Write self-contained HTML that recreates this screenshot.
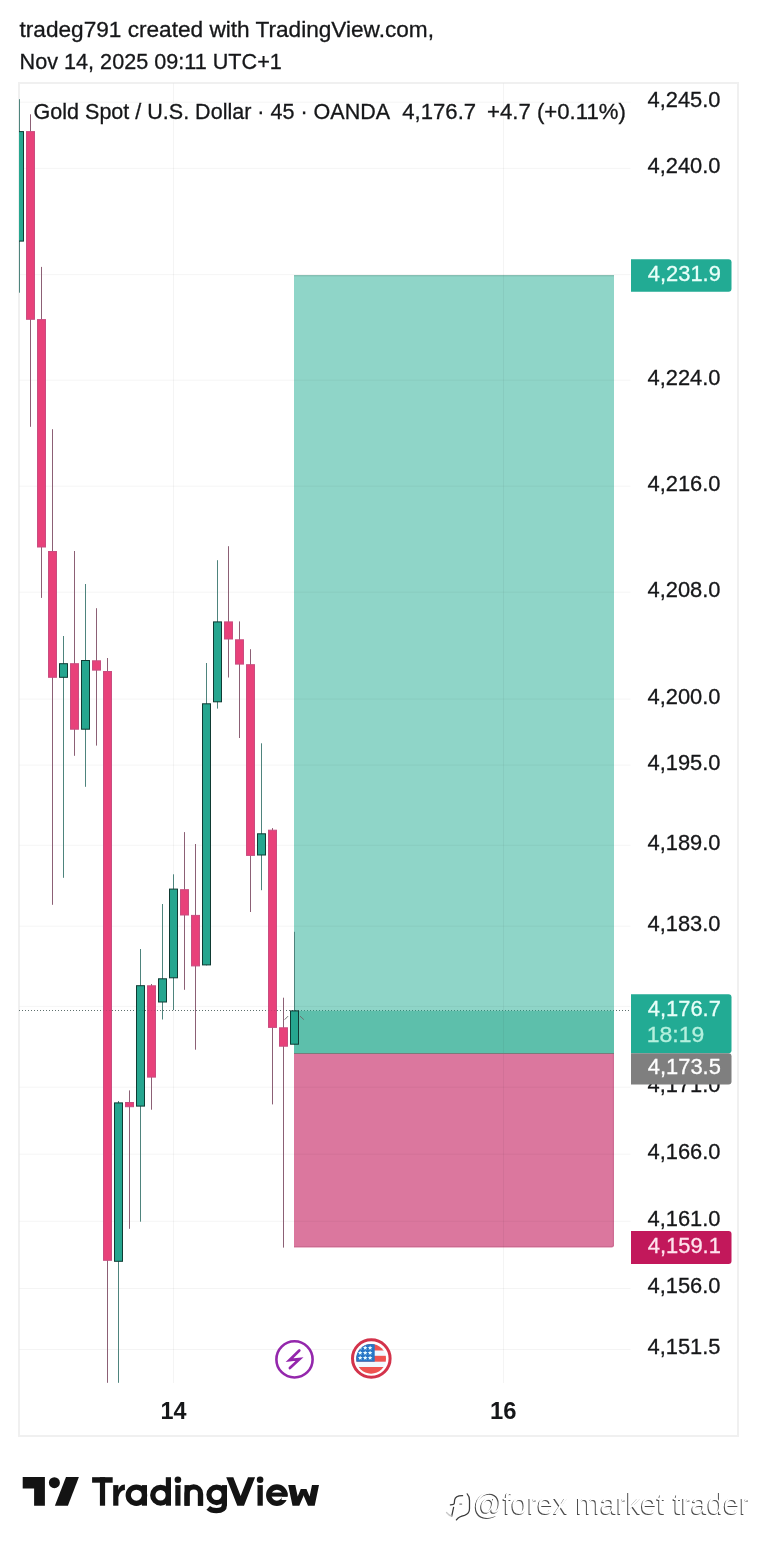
<!DOCTYPE html><html><head><meta charset="utf-8"><style>html,body{margin:0;padding:0;background:#fff;width:757px;height:1549px;overflow:hidden}svg{display:block;will-change:transform}text{font-family:"Liberation Sans", sans-serif}</style></head><body>
<svg width="757" height="1549" viewBox="0 0 757 1549">
<rect x="0" y="0" width="757" height="1549" fill="#fff"/>
<text x="19.5" y="36.7" font-size="22" font-weight="normal" fill="#161719" stroke="#161719" stroke-width="0.3" textLength="414.5" lengthAdjust="spacingAndGlyphs" >tradeg791 created with TradingView.com,</text>
<text x="19.6" y="68.6" font-size="22" font-weight="normal" fill="#161719" stroke="#161719" stroke-width="0.3" textLength="262.2" lengthAdjust="spacingAndGlyphs" >Nov 14, 2025 09:11 UTC+1</text>
<rect x="19" y="83" width="719" height="1353" fill="none" stroke="#F0F0F0" stroke-width="2"/>
<text x="33.6" y="119.4" font-size="22" font-weight="normal" fill="#161719" stroke="#161719" stroke-width="0.3" textLength="356.5" lengthAdjust="spacingAndGlyphs" >Gold Spot / U.S. Dollar · 45 · OANDA</text>
<text x="402.3" y="119.4" font-size="22" font-weight="normal" fill="#161719" stroke="#161719" stroke-width="0.3" textLength="73.8" lengthAdjust="spacingAndGlyphs" >4,176.7</text>
<text x="487.0" y="119.4" font-size="22" font-weight="normal" fill="#161719" stroke="#161719" stroke-width="0.3" textLength="138.8" lengthAdjust="spacingAndGlyphs" >+4.7 (+0.11%)</text>
<rect x="294" y="275.2" width="320" height="735.2" fill="#8FD5C8"/>
<rect x="294" y="275.2" width="320" height="1" fill="rgba(0,60,40,0.22)"/>
<rect x="294" y="1010.4" width="320" height="43.1" fill="#5DBFAB"/>
<path d="M294 1053.5 H614 V1245.2 Q614 1247.5 611.7 1247.5 H294 Z" fill="#DB779E"/>
<path d="M294 1246.5 H612 Q613 1246.5 613.3 1245.5 V1054" fill="none" stroke="rgba(90,20,50,0.12)" stroke-width="1"/>
<rect x="19.5" y="101.7" width="611" height="1" fill="rgba(0,0,0,0.045)"/>
<rect x="19.5" y="167.9" width="611" height="1" fill="rgba(0,0,0,0.045)"/>
<rect x="19.5" y="274.1" width="611" height="1" fill="rgba(0,0,0,0.045)"/>
<rect x="19.5" y="379.7" width="611" height="1" fill="rgba(0,0,0,0.045)"/>
<rect x="19.5" y="485.7" width="611" height="1" fill="rgba(0,0,0,0.045)"/>
<rect x="19.5" y="591.7" width="611" height="1" fill="rgba(0,0,0,0.045)"/>
<rect x="19.5" y="698.6" width="611" height="1" fill="rgba(0,0,0,0.045)"/>
<rect x="19.5" y="764.6" width="611" height="1" fill="rgba(0,0,0,0.045)"/>
<rect x="19.5" y="844.8" width="611" height="1" fill="rgba(0,0,0,0.045)"/>
<rect x="19.5" y="925.7" width="611" height="1" fill="rgba(0,0,0,0.045)"/>
<rect x="19.5" y="1005.9" width="611" height="1" fill="rgba(0,0,0,0.045)"/>
<rect x="19.5" y="1086.7" width="611" height="1" fill="rgba(0,0,0,0.045)"/>
<rect x="19.5" y="1153.7" width="611" height="1" fill="rgba(0,0,0,0.045)"/>
<rect x="19.5" y="1220.8" width="611" height="1" fill="rgba(0,0,0,0.045)"/>
<rect x="19.5" y="1288.0" width="611" height="1" fill="rgba(0,0,0,0.045)"/>
<rect x="19.5" y="1349.0" width="611" height="1" fill="rgba(0,0,0,0.045)"/>
<rect x="173.0" y="83.5" width="1" height="1299.5" fill="rgba(0,0,0,0.045)"/>
<rect x="503.0" y="83.5" width="1" height="1299.5" fill="rgba(0,0,0,0.045)"/>
<rect x="294" y="1053" width="320" height="1" fill="#7A7A7A"/>
<line x1="19" y1="1010.5" x2="630" y2="1010.5" stroke="#6B7B78" stroke-width="1" stroke-dasharray="1 2"/>
<line x1="295" y1="1010.5" x2="614" y2="1010.5" stroke="#3F9A88" stroke-width="1" stroke-dasharray="1 2"/>
<clipPath id="pane"><rect x="19" y="83.5" width="611" height="1299.5"/></clipPath>
<g clip-path="url(#pane)">
<rect x="19.0" y="99.2" width="1" height="193.5" fill="#4E847D"/>
<rect x="15.5" y="131.6" width="8" height="109.5" fill="#26A68F" stroke="#0F3B33" stroke-width="1"/>
<rect x="30.0" y="114.3" width="1" height="312.5" fill="#8C6075"/>
<rect x="26.5" y="131.6" width="8" height="187.7" fill="#E8417A" stroke="#C94D80" stroke-width="1"/>
<rect x="41.0" y="266.9" width="1" height="331.0" fill="#8C6075"/>
<rect x="37.5" y="319.6" width="8" height="227.4" fill="#E8417A" stroke="#C94D80" stroke-width="1"/>
<rect x="52.0" y="429.2" width="1" height="475.6" fill="#8C6075"/>
<rect x="48.5" y="551.5" width="8" height="125.8" fill="#E8417A" stroke="#C94D80" stroke-width="1"/>
<rect x="63.0" y="636.0" width="1" height="241.8" fill="#4E847D"/>
<rect x="59.5" y="663.7" width="8" height="13.6" fill="#26A68F" stroke="#0F3B33" stroke-width="1"/>
<rect x="74.0" y="551.0" width="1" height="204.8" fill="#8C6075"/>
<rect x="70.5" y="663.7" width="8" height="65.5" fill="#E8417A" stroke="#C94D80" stroke-width="1"/>
<rect x="85.0" y="584.0" width="1" height="202.8" fill="#4E847D"/>
<rect x="81.5" y="660.5" width="8" height="68.7" fill="#26A68F" stroke="#0F3B33" stroke-width="1"/>
<rect x="96.0" y="608.2" width="1" height="137.4" fill="#8C6075"/>
<rect x="92.5" y="660.8" width="8" height="9.3" fill="#E8417A" stroke="#C94D80" stroke-width="1"/>
<rect x="107.0" y="658.0" width="1" height="724.8" fill="#8C6075"/>
<rect x="103.5" y="671.5" width="8" height="588.8" fill="#E8417A" stroke="#C94D80" stroke-width="1"/>
<rect x="118.0" y="1101.0" width="1" height="281.8" fill="#4E847D"/>
<rect x="114.5" y="1102.9" width="8" height="158.4" fill="#26A68F" stroke="#0F3B33" stroke-width="1"/>
<rect x="129.0" y="1090.4" width="1" height="138.4" fill="#8C6075"/>
<rect x="125.5" y="1102.5" width="8" height="4.2" fill="#E8417A" stroke="#C94D80" stroke-width="1"/>
<rect x="140.0" y="949.0" width="1" height="272.7" fill="#4E847D"/>
<rect x="136.5" y="985.7" width="8" height="120.4" fill="#26A68F" stroke="#0F3B33" stroke-width="1"/>
<rect x="151.0" y="984.0" width="1" height="125.7" fill="#8C6075"/>
<rect x="147.5" y="985.8" width="8" height="91.3" fill="#E8417A" stroke="#C94D80" stroke-width="1"/>
<rect x="162.0" y="904.0" width="1" height="115.5" fill="#4E847D"/>
<rect x="158.5" y="978.8" width="8" height="23.2" fill="#26A68F" stroke="#0F3B33" stroke-width="1"/>
<rect x="173.0" y="874.3" width="1" height="135.7" fill="#4E847D"/>
<rect x="169.5" y="889.1" width="8" height="88.7" fill="#26A68F" stroke="#0F3B33" stroke-width="1"/>
<rect x="184.0" y="832.1" width="1" height="157.7" fill="#8C6075"/>
<rect x="180.5" y="889.7" width="8" height="25.3" fill="#E8417A" stroke="#C94D80" stroke-width="1"/>
<rect x="195.0" y="844.0" width="1" height="205.7" fill="#8C6075"/>
<rect x="191.5" y="915.4" width="8" height="50.5" fill="#E8417A" stroke="#C94D80" stroke-width="1"/>
<rect x="206.0" y="663.0" width="1" height="302.4" fill="#4E847D"/>
<rect x="202.5" y="703.8" width="8" height="261.1" fill="#26A68F" stroke="#0F3B33" stroke-width="1"/>
<rect x="217.0" y="560.2" width="1" height="148.4" fill="#4E847D"/>
<rect x="213.5" y="621.9" width="8" height="79.9" fill="#26A68F" stroke="#0F3B33" stroke-width="1"/>
<rect x="228.0" y="546.2" width="1" height="131.3" fill="#8C6075"/>
<rect x="224.5" y="621.9" width="8" height="17.1" fill="#E8417A" stroke="#C94D80" stroke-width="1"/>
<rect x="239.0" y="621.4" width="1" height="116.6" fill="#8C6075"/>
<rect x="235.5" y="639.8" width="8" height="24.3" fill="#E8417A" stroke="#C94D80" stroke-width="1"/>
<rect x="250.0" y="649.2" width="1" height="262.8" fill="#8C6075"/>
<rect x="246.5" y="664.7" width="8" height="190.7" fill="#E8417A" stroke="#C94D80" stroke-width="1"/>
<rect x="261.0" y="743.3" width="1" height="146.9" fill="#4E847D"/>
<rect x="257.5" y="833.8" width="8" height="21.2" fill="#26A68F" stroke="#0F3B33" stroke-width="1"/>
<rect x="272.0" y="828.1" width="1" height="276.3" fill="#8C6075"/>
<rect x="268.5" y="830.2" width="8" height="197.2" fill="#E8417A" stroke="#C94D80" stroke-width="1"/>
<rect x="283.0" y="997.7" width="1" height="249.9" fill="#8C6075"/>
<rect x="279.5" y="1027.8" width="8" height="18.4" fill="#E8417A" stroke="#C94D80" stroke-width="1"/>
<rect x="294.0" y="931.8" width="1" height="112.9" fill="#4E847D"/>
<rect x="290.5" y="1010.9" width="8" height="33.3" fill="#26A68F" stroke="#0F3B33" stroke-width="1"/>
</g>
<line x1="19" y1="1010.5" x2="630" y2="1010.5" stroke="rgba(30,50,45,0.15)" stroke-width="1" stroke-dasharray="1 2"/>
<g stroke="#6f6f6f" stroke-width="1" stroke-linecap="round"><line x1="284.9" y1="1019.4" x2="287.8" y2="1016.4"/><line x1="300.3" y1="1016.4" x2="303.6" y2="1019.4"/></g>
<text x="647.5" y="107.1" font-size="22" font-weight="normal" fill="#161719" stroke="#161719" stroke-width="0.3" textLength="73" lengthAdjust="spacingAndGlyphs" >4,245.0</text>
<text x="647.5" y="173.3" font-size="22" font-weight="normal" fill="#161719" stroke="#161719" stroke-width="0.3" textLength="73" lengthAdjust="spacingAndGlyphs" >4,240.0</text>
<text x="647.5" y="385.1" font-size="22" font-weight="normal" fill="#161719" stroke="#161719" stroke-width="0.3" textLength="73" lengthAdjust="spacingAndGlyphs" >4,224.0</text>
<text x="647.5" y="491.1" font-size="22" font-weight="normal" fill="#161719" stroke="#161719" stroke-width="0.3" textLength="73" lengthAdjust="spacingAndGlyphs" >4,216.0</text>
<text x="647.5" y="597.1" font-size="22" font-weight="normal" fill="#161719" stroke="#161719" stroke-width="0.3" textLength="73" lengthAdjust="spacingAndGlyphs" >4,208.0</text>
<text x="647.5" y="704.0" font-size="22" font-weight="normal" fill="#161719" stroke="#161719" stroke-width="0.3" textLength="73" lengthAdjust="spacingAndGlyphs" >4,200.0</text>
<text x="647.5" y="770.0" font-size="22" font-weight="normal" fill="#161719" stroke="#161719" stroke-width="0.3" textLength="73" lengthAdjust="spacingAndGlyphs" >4,195.0</text>
<text x="647.5" y="850.2" font-size="22" font-weight="normal" fill="#161719" stroke="#161719" stroke-width="0.3" textLength="73" lengthAdjust="spacingAndGlyphs" >4,189.0</text>
<text x="647.5" y="931.1" font-size="22" font-weight="normal" fill="#161719" stroke="#161719" stroke-width="0.3" textLength="73" lengthAdjust="spacingAndGlyphs" >4,183.0</text>
<text x="647.5" y="1092.1" font-size="22" font-weight="normal" fill="#161719" stroke="#161719" stroke-width="0.3" textLength="73" lengthAdjust="spacingAndGlyphs" >4,171.0</text>
<text x="647.5" y="1159.1" font-size="22" font-weight="normal" fill="#161719" stroke="#161719" stroke-width="0.3" textLength="73" lengthAdjust="spacingAndGlyphs" >4,166.0</text>
<text x="647.5" y="1226.2" font-size="22" font-weight="normal" fill="#161719" stroke="#161719" stroke-width="0.3" textLength="73" lengthAdjust="spacingAndGlyphs" >4,161.0</text>
<text x="647.5" y="1293.1" font-size="22" font-weight="normal" fill="#161719" stroke="#161719" stroke-width="0.3" textLength="73" lengthAdjust="spacingAndGlyphs" >4,156.0</text>
<text x="647.5" y="1354.4" font-size="22" font-weight="normal" fill="#161719" stroke="#161719" stroke-width="0.3" textLength="73" lengthAdjust="spacingAndGlyphs" >4,151.5</text>
<path d="M631 259.2 H728.5 Q731.5 259.2 731.5 262.2 V288.7 Q731.5 291.7 728.5 291.7 H631 Z" fill="#22AB94"/>
<text x="647.8" y="281.0" font-size="21.5" font-weight="normal" fill="#E8FFF9" stroke="#E8FFF9" stroke-width="0.3" textLength="73" lengthAdjust="spacingAndGlyphs" >4,231.9</text>
<path d="M631 994.2 H728.5 Q731.5 994.2 731.5 997.2 V1050.2 Q731.5 1053.2 728.5 1053.2 H631 Z" fill="#22AB94"/>
<text x="647.8" y="1016.0" font-size="21.5" font-weight="normal" fill="#E8FFF9" stroke="#E8FFF9" stroke-width="0.3" textLength="73" lengthAdjust="spacingAndGlyphs" >4,176.7</text>
<text x="646.8" y="1042.0" font-size="22" font-weight="normal" fill="#B5F0DE" stroke="#B5F0DE" stroke-width="0.3" textLength="57.5" lengthAdjust="spacingAndGlyphs" >18:19</text>
<path d="M631 1053.2 H728.5 Q731.5 1053.2 731.5 1056.2 V1081.4 Q731.5 1084.4 728.5 1084.4 H631 Z" fill="#7F7F7F"/>
<text x="647.8" y="1074.2" font-size="21.5" font-weight="normal" fill="#FFFFFF" stroke="#FFFFFF" stroke-width="0.3" textLength="73" lengthAdjust="spacingAndGlyphs" >4,173.5</text>
<path d="M631 1231.0 H728.5 Q731.5 1231.0 731.5 1234.0 V1261.0 Q731.5 1264.0 728.5 1264.0 H631 Z" fill="#C2185B"/>
<text x="647.8" y="1253.0" font-size="21.5" font-weight="normal" fill="#FFE3EE" stroke="#FFE3EE" stroke-width="0.3" textLength="73" lengthAdjust="spacingAndGlyphs" >4,159.1</text>
<text x="160.6" y="1418.6" font-size="23.5" font-weight="bold" fill="#161719" textLength="26" lengthAdjust="spacingAndGlyphs" >14</text>
<text x="490.0" y="1418.6" font-size="23.5" font-weight="bold" fill="#161719" textLength="26.5" lengthAdjust="spacingAndGlyphs" >16</text>
<circle cx="294.5" cy="1359.4" r="18.1" fill="#fff" stroke="#9427AC" stroke-width="2.6"/>
<polyline points="299.3,1350.5 289.4,1360.2 299.6,1359.0 289.9,1368.1" fill="none" stroke="#9425AC" stroke-width="2.7" stroke-linecap="round" stroke-linejoin="miter" stroke-miterlimit="6"/>
<circle cx="371.3" cy="1358.5" r="18.8" fill="#fff" stroke="#D3334B" stroke-width="3"/>
<clipPath id="flag"><circle cx="371.1" cy="1358.8" r="14.9"/></clipPath>
<g clip-path="url(#flag)">
<rect x="356" y="1343.5" width="31" height="31" fill="#F0F8FF"/>
<rect x="356" y="1343.5" width="31" height="7" fill="#EF5350"/>
<rect x="356" y="1355.8" width="31" height="5.9" fill="#EF5350"/>
<rect x="356" y="1367" width="31" height="7" fill="#EF5350"/>
<rect x="356" y="1343.5" width="18.7" height="18.2" fill="#2776C6"/>
<polygon points="360.20,1345.50 360.83,1347.03 362.48,1347.16 361.23,1348.23 361.61,1349.84 360.20,1348.98 358.79,1349.84 359.17,1348.23 357.92,1347.16 359.57,1347.03" fill="#E6FBFF"/>
<polygon points="360.20,1350.40 360.83,1351.93 362.48,1352.06 361.23,1353.13 361.61,1354.74 360.20,1353.88 358.79,1354.74 359.17,1353.13 357.92,1352.06 359.57,1351.93" fill="#E6FBFF"/>
<polygon points="360.20,1355.40 360.83,1356.93 362.48,1357.06 361.23,1358.13 361.61,1359.74 360.20,1358.88 358.79,1359.74 359.17,1358.13 357.92,1357.06 359.57,1356.93" fill="#E6FBFF"/>
<polygon points="365.20,1345.50 365.83,1347.03 367.48,1347.16 366.23,1348.23 366.61,1349.84 365.20,1348.98 363.79,1349.84 364.17,1348.23 362.92,1347.16 364.57,1347.03" fill="#E6FBFF"/>
<polygon points="365.20,1350.40 365.83,1351.93 367.48,1352.06 366.23,1353.13 366.61,1354.74 365.20,1353.88 363.79,1354.74 364.17,1353.13 362.92,1352.06 364.57,1351.93" fill="#E6FBFF"/>
<polygon points="365.20,1355.40 365.83,1356.93 367.48,1357.06 366.23,1358.13 366.61,1359.74 365.20,1358.88 363.79,1359.74 364.17,1358.13 362.92,1357.06 364.57,1356.93" fill="#E6FBFF"/>
<polygon points="370.10,1345.50 370.73,1347.03 372.38,1347.16 371.13,1348.23 371.51,1349.84 370.10,1348.98 368.69,1349.84 369.07,1348.23 367.82,1347.16 369.47,1347.03" fill="#E6FBFF"/>
<polygon points="370.10,1350.40 370.73,1351.93 372.38,1352.06 371.13,1353.13 371.51,1354.74 370.10,1353.88 368.69,1354.74 369.07,1353.13 367.82,1352.06 369.47,1351.93" fill="#E6FBFF"/>
<polygon points="370.10,1355.40 370.73,1356.93 372.38,1357.06 371.13,1358.13 371.51,1359.74 370.10,1358.88 368.69,1359.74 369.07,1358.13 367.82,1357.06 369.47,1356.93" fill="#E6FBFF"/>
</g>
<path d="M22.7 1477 H44.9 V1505.7 H34.1 V1488.5 H22.7 Z" fill="#131313"/>
<circle cx="54.4" cy="1482.7" r="5.5" fill="#131313"/>
<path d="M66 1477 H78.9 L67.9 1505.7 H54.9 Z" fill="#131313"/>
<g fill="#131313">
<rect x="92.1" y="1477.2" width="20.6" height="5.5"/><rect x="99.9" y="1477.2" width="5.2" height="28.5"/>
<rect x="113.2" y="1485.1" width="5.2" height="20.6"/>
<path d="M117.6 1493.5 Q118.2 1484.6 124.9 1484.6 V1490.1 Q120.2 1490.1 118.4 1497 Z"/>
<circle cx="136.4" cy="1495.2" r="8.15" fill="none" stroke="#131313" stroke-width="5.3"/>
<rect x="141.9" y="1485.1" width="5.1" height="20.6"/>
<circle cx="160.6" cy="1495.2" r="7.85" fill="none" stroke="#131313" stroke-width="5.3"/>
<rect x="165.8" y="1477.2" width="5.2" height="28.5"/>
<rect x="175.3" y="1485.1" width="5.2" height="20.6"/><circle cx="177.9" cy="1479.7" r="3.3"/>
<rect x="184.5" y="1485.1" width="5.1" height="20.6"/><rect x="197.9" y="1494" width="5.2" height="11.7"/>
<path d="M187.05 1505.7 V1493.6 A6.7 6.7 0 0 1 200.5 1493.6 V1505.7" fill="none" stroke="#131313" stroke-width="5.2"/>
<circle cx="216.7" cy="1494.8" r="7.75" fill="none" stroke="#131313" stroke-width="5.2"/>
<rect x="221.8" y="1485.1" width="5.2" height="20.5"/>
<path d="M224.4 1505 Q224.4 1510.6 216.4 1510.6 Q211.2 1510.6 208.2 1507.8" fill="none" stroke="#131313" stroke-width="5.2"/>
<polygon points="226.2,1477.2 233.3,1477.2 240.65,1496.1 248,1477.2 255.1,1477.2 244.0,1505.7 237.3,1505.7"/>
<rect x="257.5" y="1485.1" width="5.3" height="20.6"/><circle cx="260.1" cy="1479.7" r="3.3"/>
<circle cx="276.9" cy="1495.2" r="8.15" fill="none" stroke="#131313" stroke-width="5.4"/>
<rect x="281.6" y="1496.6" width="7" height="3.4" fill="#fff"/>
<rect x="268" y="1492.6" width="19.4" height="4.0"/>
<polygon points="288.2,1485.1 295.3,1485.1 297.7,1496.4 300.8,1489 306.4,1489 299.3,1505.7 292.5,1505.7"/>
<polygon points="300.8,1489 306.4,1489 309.6,1496.5 312,1485.1 319,1485.1 314.7,1505.7 308,1505.7"/>
</g>
<g fill="none" stroke="#3a3a3a" stroke-width="1.25" stroke-linecap="round">
<path d="M462.6 1495.7 C458.5 1495.6 455.2 1496.6 454.6 1500.2 L454.3 1503.3 Q454.1 1504.6 452.3 1504.6 L450.4 1504.9"/>
<path d="M453.6 1507.4 L451.7 1516.2"/>
<path d="M459.8 1504.1 L461.6 1504.1" stroke="#777"/>
<path d="M467.2 1493.8 Q469.5 1496.3 469.5 1500.5 L469.5 1508.8 Q469.5 1513.6 464.5 1515.3 Q459 1516.3 456.4 1519.9"/>
<path d="M446.5 1512.5 Q449 1515.5 451.6 1516.2" stroke="#c8c8c8"/>
</g>
<text x="472.6" y="1514.6" font-size="29" font-weight="normal" fill="#4a4a4a" textLength="275.8" lengthAdjust="spacingAndGlyphs" >@forex market trader</text>
<text x="473.6" y="1514.0" font-size="29" font-weight="normal" fill="#ffffff" textLength="275.8" lengthAdjust="spacingAndGlyphs" >@forex market trader</text>
</svg></body></html>
